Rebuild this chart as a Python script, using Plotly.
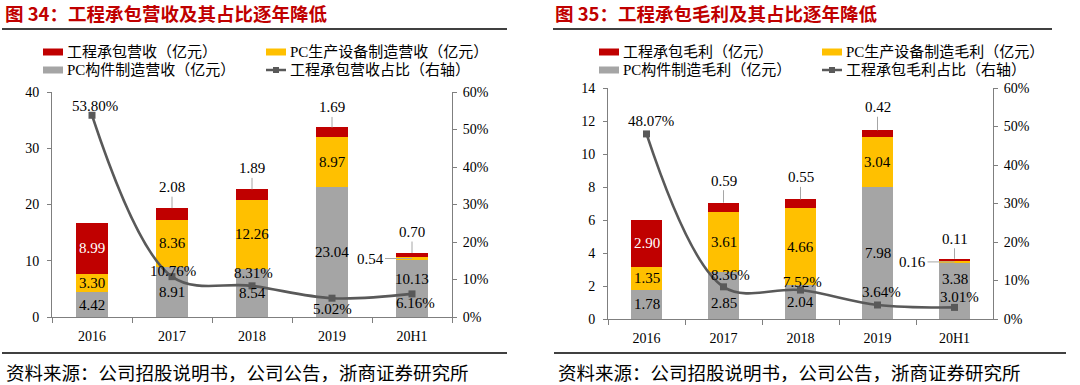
import plotly.graph_objects as go

W, H = 1080, 385

# ---------------- data ----------------
categories = ["2016", "2017", "2018", "2019", "20H1"]

rev_pc_parts = [4.42, 8.91, 8.54, 23.04, 10.13]     # PC构件制造营收（亿元）
rev_pc_equip = [3.30, 8.36, 12.26, 8.97, 0.54]      # PC生产设备制造营收（亿元）
rev_contract = [8.99, 2.08, 1.89, 1.69, 0.70]       # 工程承包营收（亿元）
rev_contract_share = [53.80, 10.76, 8.31, 5.02, 6.16]  # 工程承包营收占比（%）

gp_pc_parts = [1.78, 2.85, 2.04, 7.98, 3.38]        # PC构件制造毛利（亿元）
gp_pc_equip = [1.35, 3.61, 4.66, 3.04, 0.16]        # PC生产设备制造毛利（亿元）
gp_contract = [2.90, 0.59, 0.55, 0.42, 0.11]        # 工程承包毛利（亿元）
gp_contract_share = [48.07, 8.36, 7.52, 3.64, 3.01]    # 工程承包毛利占比（%）

rev_ticks = [0, 10, 20, 30, 40]
gp_ticks = [0, 2, 4, 6, 8, 10, 12, 14]
share_ticks = [0, 10, 20, 30, 40, 50, 60]
share_tick_labels = ["0%", "10%", "20%", "30%", "40%", "50%", "60%"]

titles = ["图 34：工程承包营收及其占比逐年降低", "图 35：工程承包毛利及其占比逐年降低"]
legend_rev = ["工程承包营收（亿元）", "PC生产设备制造营收（亿元）", "PC构件制造营收（亿元）", "工程承包营收占比（右轴）"]
legend_gp = ["工程承包毛利（亿元）", "PC生产设备制造毛利（亿元）", "PC构件制造毛利（亿元）", "工程承包毛利占比（右轴）"]
source_text = "资料来源：公司招股说明书，公司公告，浙商证券研究所"

# ---------------- style ----------------
RED = "#C00000"
YEL = "#FFC000"
GRAY = "#A5A5A5"
LINE = "#595959"
AXIS = "#7F7F7F"
SERIF = "Liberation Serif, Noto Sans CJK SC"
CJK = "Noto Sans CJK SC"

def px(x):
    return x / W

def py(y):
    return 1 - y / H

fig = go.Figure()
annotations = []
shapes = []

panels = [
    dict(xa="x", ya="y", ya2="y2", parts=rev_pc_parts, equip=rev_pc_equip, contract=rev_contract,
         share=rev_contract_share, x0=52, x1=452, ybot=317, ytop=92, ymax=40, yticks=rev_ticks,
         legend=legend_rev, title=titles[0], tx=3,
         parts_shift=[0, 0, 0, 0, 10],
         share_shift=[(3, 9), (1, 6), (1, 13), (0, -11), (3, -9)],
         top_ay=[-22, -21, -21, -20, -21]),
    dict(xa="x2", ya="y3", ya2="y4", parts=gp_pc_parts, equip=gp_pc_equip, contract=gp_contract,
         share=gp_contract_share, x0=608, x1=993, ybot=319, ytop=88, ymax=14, yticks=gp_ticks,
         legend=legend_gp, title=titles[1], tx=553,
         parts_shift=[0, -8, 0, 0, 12],
         share_shift=[(4, 13), (7, 12), (2, 8), (4, 13), (5, 10)],
         top_ay=[-22, -22, -22, -23, -20]),
]

for p in panels:
    n = len(categories)
    for vals, col in ((p["parts"], GRAY), (p["equip"], YEL), (p["contract"], RED)):
        fig.add_trace(go.Bar(x=categories, y=vals, marker=dict(color=col, line=dict(width=0)),
                             width=0.4, xaxis=p["xa"], yaxis=p["ya"], hoverinfo="skip"))
    fig.add_trace(go.Scatter(x=categories, y=p["share"], mode="lines+markers",
                             line=dict(color=LINE, width=2.6, shape="spline", smoothing=1.0),
                             marker=dict(symbol="square", size=7, color=LINE),
                             xaxis=p["xa"], yaxis=p["ya2"], hoverinfo="skip"))

    font_lbl = dict(family=SERIF, size=15, color="black")
    for i, c in enumerate(categories):
        g, yv, r = p["parts"][i], p["equip"][i], p["contract"][i]
        annotations.append(dict(x=i, y=g / 2, xref=p["xa"], yref=p["ya"], text=f"{g:.2f}",
                                showarrow=False, font=font_lbl, yshift=p["parts_shift"][i]))
        if i < n - 1:
            annotations.append(dict(x=i, y=g + yv / 2, xref=p["xa"], yref=p["ya"], text=f"{yv:.2f}",
                                    showarrow=False, font=font_lbl))
        else:
            annotations.append(dict(x=i, y=g + yv / 2, xref=p["xa"], yref=p["ya"], text=f"{yv:.2f}",
                                    showarrow=True, arrowhead=0, arrowwidth=1, arrowcolor="#A6A6A6",
                                    ax=-42, ay=0, font=font_lbl, standoff=0))
        if i == 0:
            annotations.append(dict(x=i, y=g + yv + r / 2, xref=p["xa"], yref=p["ya"], text=f"{r:.2f}",
                                    showarrow=False, font=dict(family=SERIF, size=15, color="white")))
        else:
            annotations.append(dict(x=i, y=g + yv + r, xref=p["xa"], yref=p["ya"], text=f"{r:.2f}",
                                    showarrow=True, arrowhead=0, arrowwidth=1, arrowcolor="#A6A6A6",
                                    ax=0, ay=p["top_ay"][i], font=font_lbl, standoff=0))
        sx, sy = p["share_shift"][i]
        annotations.append(dict(x=i, y=p["share"][i], xref=p["xa"], yref=p["ya2"],
                                text=f"{p['share'][i]:.2f}%", showarrow=False, font=font_lbl,
                                xshift=sx, yshift=sy))

    annotations.append(dict(x=px(p["tx"]), y=py(13), xref="paper", yref="paper", xanchor="left",
                            yanchor="middle", text="<b>" + p["title"] + "</b>", showarrow=False,
                            font=dict(family=CJK, size=18.5, color=RED)))
    rule_x0 = 2 if p["tx"] < 100 else 553
    rule_x1 = 507 if p["tx"] < 100 else 1052
    shapes.append(dict(type="line", xref="paper", yref="paper", x0=px(rule_x0), x1=px(rule_x1),
                       y0=py(29), y1=py(29), line=dict(color="#404040", width=2)))
    bx0 = 2 if p["tx"] < 100 else 554
    bx1 = 507 if p["tx"] < 100 else 1066
    shapes.append(dict(type="line", xref="paper", yref="paper", x0=px(bx0), x1=px(bx1),
                       y0=py(353), y1=py(353), line=dict(color="#404040", width=2)))
    annotations.append(dict(x=px(bx0 + 2), y=py(372), xref="paper", yref="paper", xanchor="left",
                            yanchor="middle", text=source_text, showarrow=False,
                            font=dict(family=CJK, size=18.5, color="black")))

    lx0 = p["x0"] - 9
    lx1 = lx0 + 223
    rows = [52, 70]
    items = [(lx0, rows[0], RED, "rect"), (lx1, rows[0], YEL, "rect"),
             (lx0, rows[1], GRAY, "rect"), (lx1, rows[1], LINE, "line")]
    for (x, y, col, kind), label in zip(items, p["legend"]):
        if kind == "rect":
            shapes.append(dict(type="rect", xref="paper", yref="paper", x0=px(x), x1=px(x + 20),
                               y0=py(y + 3.5), y1=py(y - 3.5), fillcolor=col, line=dict(width=0)))
        else:
            shapes.append(dict(type="line", xref="paper", yref="paper", x0=px(x), x1=px(x + 20),
                               y0=py(y), y1=py(y), line=dict(color=col, width=2.5)))
            shapes.append(dict(type="rect", xref="paper", yref="paper", x0=px(x + 7), x1=px(x + 13),
                               y0=py(y + 3), y1=py(y - 3), fillcolor=col, line=dict(width=0)))
        annotations.append(dict(x=px(x + 22), y=py(y), xref="paper", yref="paper", xanchor="left",
                                yanchor="middle", text=label, showarrow=False,
                                font=dict(family=SERIF, size=15, color="black")))

tickfont = dict(family=SERIF, size=14, color="black")
common_y = dict(showgrid=False, zeroline=False, showline=True, linecolor=AXIS, linewidth=1,
                ticks="outside", ticklen=4, tickcolor=AXIS, tickfont=tickfont, fixedrange=True,
                automargin=False)
common_x = dict(type="category", showgrid=False, zeroline=False, showline=True, linecolor=AXIS,
                linewidth=1, ticks="outside", ticklen=5, tickcolor=AXIS, tickson="boundaries",
                tickfont=tickfont, fixedrange=True, range=[-0.5, len(categories) - 0.5],
                autorange=False, tickangle=0, automargin=False, ticklabelstandoff=6)

p0, p1 = panels
fig.update_layout(
    width=W, height=H, margin=dict(l=0, r=0, t=0, b=0, pad=0, autoexpand=False),
    paper_bgcolor="white", plot_bgcolor="rgba(0,0,0,0)",
    barmode="stack", showlegend=False,
    xaxis=dict(domain=[px(p0["x0"]), px(p0["x1"])], anchor="y", **common_x),
    yaxis=dict(domain=[py(p0["ybot"]), py(p0["ytop"])], anchor="x", range=[0, p0["ymax"]],
               tickvals=p0["yticks"], ticklabelstandoff=5, **common_y),
    yaxis2=dict(overlaying="y", side="right", anchor="x", range=[0, 60], tickvals=share_ticks,
                ticktext=share_tick_labels, ticklabelstandoff=3, **common_y),
    xaxis2=dict(domain=[px(p1["x0"]), px(p1["x1"])], anchor="y3", **common_x),
    yaxis3=dict(domain=[py(p1["ybot"]), py(p1["ytop"])], anchor="x2", range=[0, p1["ymax"]],
                tickvals=p1["yticks"], ticklabelstandoff=5, **common_y),
    yaxis4=dict(overlaying="y3", side="right", anchor="x2", range=[0, 60], tickvals=share_ticks,
                ticktext=share_tick_labels, ticklabelstandoff=3, **common_y),
    annotations=annotations, shapes=shapes,
)

fig.write_html("out.html", config={"displayModeBar": False},
               post_script="document.body.style.margin='0';document.body.style.overflow='hidden';")
